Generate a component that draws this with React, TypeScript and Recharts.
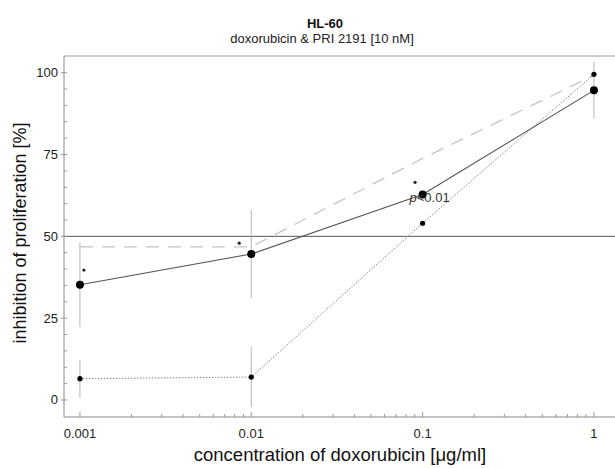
import React from "react";
import {
  ComposedChart,
  Line,
  Scatter,
  XAxis,
  YAxis,
  ReferenceLine,
  ErrorBar,
  LabelList,
} from "recharts";

// ---- data ----
const concentrations = [0.001, 0.01, 0.1, 1];
const tickLabels = ["0.001", "0.01", "0.1", "1"];
const yTickLabels = [0, 25, 50, 75, 100];

// doxorubicin & PRI 2191 (solid line, large dots)
const combination = [35.2, 44.6, 62.8, 94.6];
const combinationErr = [12.9, 13.5, 0, 8.6];

// doxorubicin alone (dotted line, small dots)
const doxorubicinAlone = [6.5, 7.0, 54.0, 99.5];
const doxorubicinErr = [5.8, 9.2, 0, 0];

// expected additive effect (dashed light line)
const additive = [46.8, 46.8, 73.8, 99.2];

// significance markers
const sigConc = [0.001055, 0.0085, 0.0904];
const sigValue = [39.7, 47.9, 66.5];

const threshold = 50;
const pText = "p<0.01";
const pIndex = 2;

// ---- derived tables ----
const lx = (c: number) => Math.log10(c);
const solidData = concentrations.map((c, i) => ({
  x: lx(c),
  y: combination[i],
  err: combinationErr[i],
  note: i === pIndex ? pText : "",
}));
const dottedData = concentrations.map((c, i) => ({ x: lx(c), y: doxorubicinAlone[i], err: doxorubicinErr[i] }));
const dashedData = concentrations.map((c, i) => ({ x: lx(c), y: additive[i] }));
const sigData = sigConc.map((c, i) => ({ x: lx(c), y: sigValue[i] }));

const X_DOMAIN: [number, number] = [-3.093, 0.123];
const Y_DOMAIN: [number, number] = [-5.2, 105.1];

const xTicks: number[] = [];
for (let n = -3; n <= 0; n++) {
  for (let k = 1; k <= 9; k++) {
    const v = n + Math.log10(k);
    if (v >= X_DOMAIN[0] && v <= X_DOMAIN[1]) xTicks.push(v);
  }
}
const yTicks: number[] = [];
for (let v = 0; v <= 100; v += 5) yTicks.push(v);

const FONT = "'Liberation Sans', Arial, Helvetica, sans-serif";

const XTick = (props: any) => {
  const { x, y, payload } = props;
  const v = payload.value;
  const major = Math.abs(v - Math.round(v)) < 1e-6;
  const idx = Math.round(v) + 3;
  return (
    <g>
      <line x1={x} x2={x} y1={y} y2={y - (major ? 5 : 3)} stroke="#999" strokeWidth={1} />
      {major && (
        <text x={x} y={y + 21} textAnchor="middle" fontSize={13} fontFamily={FONT} fill="#222">
          {tickLabels[idx]}
        </text>
      )}
    </g>
  );
};

const YTick = (props: any) => {
  const { x, y, payload } = props;
  const v = payload.value;
  const major = yTickLabels.includes(v);
  return (
    <g>
      <line x1={major ? x - 3 : x} x2={x + 3} y1={y} y2={y} stroke="#999" strokeWidth={1} />
      {major && (
        <text x={x - 6} y={y + 4.5} textAnchor="end" fontSize={13} fontFamily={FONT} fill="#222">
          {v}
        </text>
      )}
    </g>
  );
};

const BigDot = (props: any) => {
  const { cx, cy } = props;
  if (cx == null || cy == null) return null;
  return <circle cx={cx} cy={cy} r={4} fill="#000" />;
};
const SmallDot = (props: any) => {
  const { cx, cy } = props;
  if (cx == null || cy == null) return null;
  return <circle cx={cx} cy={cy} r={2.6} fill="#000" />;
};
const Star = (props: any) => {
  const { cx, cy } = props;
  if (cx == null || cy == null) return null;
  return <circle cx={cx} cy={cy} r={1.6} fill="#222" />;
};

const PLabel = (props: any) => {
  const { x, y, value } = props;
  if (!value || x == null || y == null) return null;
  const s = String(value);
  return (
    <text x={x + 7} y={y + 7.5} textAnchor="middle" fontSize={13} fontFamily={FONT} fill="#333">
      <tspan fontStyle="italic">{s.slice(0, 1)}</tspan>
      {s.slice(1)}
    </text>
  );
};

export default function App() {
  return (
    <div style={{ position: "absolute", left: 0, top: 0, width: 615, height: 468, background: "#fff" }}>
      <ComposedChart
        width={615}
        height={468}
        margin={{ top: 56, right: 0, bottom: 0, left: 0 }}
      >
        <XAxis
          dataKey="x"
          type="number"
          domain={X_DOMAIN}
          allowDataOverflow
          ticks={xTicks}
          interval={0}
          tick={<XTick />}
          tickLine={false}
          tickSize={0}
          tickMargin={0}
          height={51}
          axisLine={{ stroke: "#888", strokeWidth: 1 }}
        />
        <YAxis
          type="number"
          domain={Y_DOMAIN}
          allowDataOverflow
          ticks={yTicks}
          interval={0}
          tick={<YTick />}
          tickLine={false}
          tickSize={0}
          tickMargin={0}
          width={64}
          axisLine={{ stroke: "#888", strokeWidth: 1 }}
        />
        <ReferenceLine y={Y_DOMAIN[1]} stroke="#999" strokeWidth={1} />
        <ReferenceLine y={threshold} stroke="#555" strokeWidth={1} />
        <Line
          data={dashedData}
          dataKey="y"
          type="linear"
          stroke="#c4c4c4"
          strokeWidth={1.3}
          strokeDasharray="13 9"
          dot={false}
          isAnimationActive={false}
        />
        <Line
          data={dottedData}
          dataKey="y"
          type="linear"
          stroke="#888"
          strokeWidth={1}
          strokeDasharray="1.5 1.5"
          dot={<SmallDot />}
          isAnimationActive={false}
        >
          <ErrorBar dataKey="err" direction="y" width={0} stroke="#b5b5b5" strokeWidth={1} />
        </Line>
        <Line
          data={solidData}
          dataKey="y"
          type="linear"
          stroke="#555"
          strokeWidth={1.1}
          dot={<BigDot />}
          isAnimationActive={false}
        >
          <ErrorBar dataKey="err" direction="y" width={0} stroke="#b5b5b5" strokeWidth={1} />
          <LabelList dataKey="note" content={<PLabel />} />
        </Line>
        <Scatter data={sigData} dataKey="y" shape={<Star />} isAnimationActive={false} />
      </ComposedChart>
      <svg
        width={615}
        height={468}
        style={{ position: "absolute", left: 0, top: 0, pointerEvents: "none" }}
      >
        <text x={325} y={28} textAnchor="middle" fontSize={13} fontWeight="bold" fontFamily={FONT} fill="#111">
          HL-60
        </text>
        <text x={322} y={43} textAnchor="middle" fontSize={13} fontFamily={FONT} fill="#222">
          doxorubicin &amp; PRI 2191 [10 nM]
        </text>
        <text x={340} y={461} textAnchor="middle" fontSize={18.5} fontFamily={FONT} fill="#111">
          concentration of doxorubicin [μg/ml]
        </text>
        <text
          x={0}
          y={0}
          transform="translate(26,233) rotate(-90)"
          textAnchor="middle"
          fontSize={18}
          fontFamily={FONT}
          fill="#111"
        >
          inhibition of proliferation [%]
        </text>
      </svg>
    </div>
  );
}
